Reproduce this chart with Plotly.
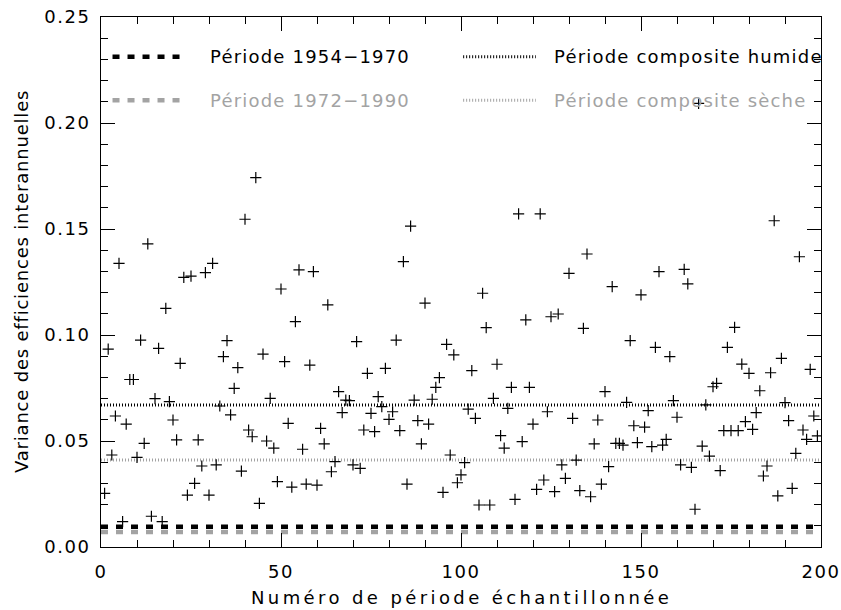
import plotly.graph_objects as go

# Sampled period index and inter-annual efficiency variance per period
periode = list(range(1, 200))
variance = [
    0.0253, 0.0933, 0.0434, 0.0618, 0.1338, 0.0120, 0.0580, 0.0790, 0.0790, 0.0423,
    0.0976, 0.0489, 0.1430, 0.0145, 0.0700, 0.0937, 0.0120, 0.1126, 0.0686, 0.0599,
    0.0505, 0.0866, 0.1272, 0.0245, 0.1278, 0.0300, 0.0505, 0.0382, 0.1294, 0.0245,
    0.1338, 0.0387, 0.0665, 0.0898, 0.0973, 0.0623, 0.0748, 0.0846, 0.0358, 0.1546,
    0.0552, 0.0520, 0.1742, 0.0206, 0.0910, 0.0500, 0.0701, 0.0466, 0.0308, 0.1217,
    0.0874, 0.0583, 0.0282, 0.1063, 0.1307, 0.0461, 0.0297, 0.0858, 0.1299, 0.0292,
    0.0560, 0.0486, 0.1142, 0.0355, 0.0403, 0.0733, 0.0634, 0.0693, 0.0690, 0.0387,
    0.0969, 0.0371, 0.0552, 0.0819, 0.0630, 0.0544, 0.0709, 0.0662, 0.0843, 0.0602,
    0.0638, 0.0976, 0.0549, 0.1346, 0.0297, 0.1514, 0.0693, 0.0596, 0.0486, 0.1150,
    0.0580, 0.0697, 0.0753, 0.0799, 0.0258, 0.0956, 0.0434, 0.0906, 0.0303, 0.0340,
    0.0398, 0.0650, 0.0832, 0.0607, 0.0198, 0.1197, 0.1035, 0.0198, 0.0701, 0.0862,
    0.0525, 0.0466, 0.0654, 0.0753, 0.0225, 0.1571, 0.0497, 0.1071, 0.0753, 0.0580,
    0.0272, 0.1571, 0.0316, 0.0638, 0.1086, 0.0261, 0.1099, 0.0387, 0.0324, 0.1291,
    0.0607, 0.0410, 0.0266, 0.1031, 0.1382, 0.0237, 0.0486, 0.0599, 0.0297, 0.0733,
    0.0379, 0.1228, 0.0489, 0.0489, 0.0481, 0.0682, 0.0973, 0.0572, 0.0492, 0.1189,
    0.0565, 0.0643, 0.0473, 0.0942, 0.1299, 0.0481, 0.0508, 0.0898, 0.0690, 0.0612,
    0.0387, 0.1310, 0.1241, 0.0376, 0.0178, 0.2093, 0.0476, 0.0670, 0.0429, 0.0756,
    0.0772, 0.0360, 0.0549, 0.0942, 0.0549, 0.1036, 0.0549, 0.0863, 0.0591, 0.0819,
    0.0555, 0.0634, 0.0737, 0.0335, 0.0382, 0.0822, 0.1539, 0.0241, 0.0890, 0.0681,
    0.0596, 0.0277, 0.0442, 0.1369, 0.0552, 0.0508, 0.0838, 0.0618, 0.0524,
]

# Reference levels (constant variance for each period type)
ref_labels = ["Période 1954\u22121970", "Période 1972\u22121990",
              "Période composite humide", "Période composite sèche"]
ref_values = [0.0095, 0.0071, 0.0670, 0.0410]

x_ticks = [0, 50, 100, 150, 200]
y_ticks = [0.00, 0.05, 0.10, 0.15, 0.20, 0.25]

BLACK = "#000000"
GREY = "#a3a3a3"
ref_colors = [BLACK, GREY, BLACK, GREY]
ref_dash = ["7px,8px", "7px,8px", "1px,2px", "1px,2px"]
ref_width = [4.5, 4.5, 3, 3]

FONT = "DejaVu Sans"
X0, X1 = 0, 200


def spaced(text, px):
    """Wrap text so it is drawn with extra letter spacing."""
    return f'<span style="letter-spacing:{px}px">{text}</span>'


fig = go.Figure()

for lab, val, col, dsh, w in zip(ref_labels, ref_values, ref_colors, ref_dash, ref_width):
    fig.add_trace(go.Scatter(
        x=[X0, X1], y=[val, val], mode="lines", name=lab,
        line=dict(color=col, dash=dsh, width=w), showlegend=False,
        hoverinfo="skip",
    ))

fig.add_trace(go.Scatter(
    x=periode, y=variance, mode="markers", name="Variance",
    marker=dict(symbol="cross-thin", size=8, color=BLACK,
                line=dict(color=BLACK, width=1.2)),
    showlegend=False,
))

# Hand-built legend: two columns, two rows
leg_rows = [0.925, 0.843]
leg_cols = [(0.016, 0.117, 0.149), (0.503, 0.604, 0.626)]
order = [(0, 0, 0), (1, 1, 0), (2, 0, 1), (3, 1, 1)]
for idx, row, colm in order:
    xa, xb, xt = leg_cols[colm]
    yy = leg_rows[row]
    fig.add_shape(type="line", xref="paper", yref="paper",
                  x0=xa, x1=xb, y0=yy, y1=yy,
                  line=dict(color=ref_colors[idx], dash=ref_dash[idx],
                            width=ref_width[idx]))
    fig.add_annotation(xref="paper", yref="paper", x=xt, y=yy,
                       xanchor="left", yanchor="middle", showarrow=False,
                       text=spaced(ref_labels[idx], 1.2),
                       font=dict(family=FONT, size=18, color=ref_colors[idx]))

# Axis titles
fig.add_annotation(xref="paper", yref="paper", x=0.5, y=0, yshift=-50,
                   xanchor="center", yanchor="middle", showarrow=False,
                   text=spaced("Numéro de période échantillonnée", 3.4),
                   font=dict(family=FONT, size=18, color=BLACK))
fig.add_annotation(xref="paper", yref="paper", x=0, y=0.5, xshift=-80,
                   xanchor="center", yanchor="middle", showarrow=False,
                   textangle=-90,
                   text=spaced("Variance des efficiences interannuelles", 0.8),
                   font=dict(family=FONT, size=18, color=BLACK))

axis_common = dict(
    showgrid=False, zeroline=False, showline=True, linecolor=BLACK,
    linewidth=1, mirror="ticks", ticks="inside", ticklen=14,
    tickwidth=1, tickcolor=BLACK, automargin=False,
    tickfont=dict(family=FONT, size=18, color=BLACK),
)

fig.update_xaxes(range=[X0, X1], tickmode="array", tickvals=x_ticks,
                 ticktext=[spaced(f"{v:d}", 1.5) for v in x_ticks],
                 minor=dict(ticks="inside", ticklen=7, dtick=10,
                            tickcolor=BLACK, tickwidth=1),
                 ticklabelstandoff=8, **axis_common)
fig.update_yaxes(range=[0, 0.25], tickmode="array", tickvals=y_ticks,
                 ticktext=[spaced(f"{v:.2f}", 1.5) for v in y_ticks],
                 minor=dict(ticks="inside", ticklen=7, dtick=0.01,
                            tickcolor=BLACK, tickwidth=1),
                 ticklabelstandoff=6, **axis_common)

fig.update_layout(
    width=841, height=610,
    margin=dict(l=101, r=20, t=17, b=63),
    plot_bgcolor="white", paper_bgcolor="white",
    font=dict(family=FONT, color=BLACK),
)

fig.write_html("out.html")
